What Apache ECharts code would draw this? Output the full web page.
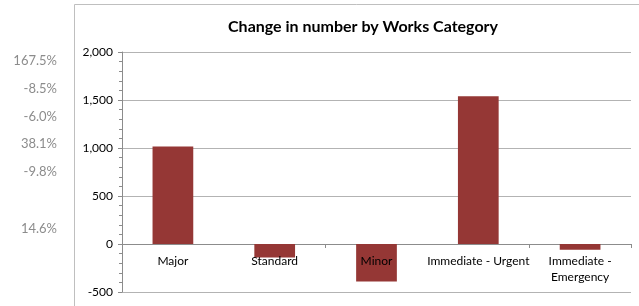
<!DOCTYPE html>
<html>
<head>
<meta charset="utf-8">
<script src="https://cdn.jsdelivr.net/npm/echarts@6/dist/echarts.min.js"></script>
<style>
  html, body { margin: 0; padding: 0; background: #fff; }
  #main { width: 639px; height: 306px; }
</style>
</head>
<body>
<div id="main"></div>
<script>
// works categories and change in number
const categories = ['Major', 'Standard', 'Minor', 'Immediate - Urgent', 'Immediate -\nEmergency'];
const changeValues = [1015, -140, -390, 1540, -60];
const yTicks = [-500, 0, 500, 1000, 1500, 2000];
// percentages shown to the left of the chart box
const pctLabels = ['167.5%', '-8.5%', '-6.0%', '38.1%', '-9.8%', '14.6%'];
const pctRows = [61, 89, 117, 144, 172, 229];

const chart = echarts.init(document.getElementById('main'), null, { renderer: 'canvas' });
const font = 'Lato, "Open Sans", sans-serif';

let graphics = [
  { type: 'line', shape: { x1: 74.5, y1: 4.5, x2: 639, y2: 4.5 }, style: { stroke: '#bfbfbf', lineWidth: 1 } },
  { type: 'line', shape: { x1: 74.5, y1: 4.5, x2: 74.5, y2: 306 }, style: { stroke: '#bfbfbf', lineWidth: 1 } }
];
pctLabels.forEach((t, i) => {
  graphics.push({
    type: 'text', right: 639 - 57, top: pctRows[i] - 7,
    style: { text: t, fill: '#8c8c8c', font: '13px ' + font, textAlign: 'right' }
  });
});

const option = {
  animation: false,
  title: {
    text: 'Change in number by Works Category',
    left: 358, top: 14, textAlign: 'center',
    textStyle: { fontFamily: font, fontWeight: 'bold', fontSize: 16, color: '#000' }
  },
  grid: { left: 122, right: 8, top: 52, bottom: 14, containLabel: false, outerBoundsMode: 'none' },
  xAxis: [{
    type: 'category',
    data: categories,
    axisLine: { onZero: true, lineStyle: { color: '#8c8c8c' } },
    axisTick: { show: true, alignWithLabel: false, length: 4, lineStyle: { color: '#8c8c8c' } },
    axisLabel: { show: false }
  }, {
    // label-only axis sitting on the zero line, drawn over the bars
    type: 'category',
    data: categories,
    position: 'bottom',
    offset: -48,
    z: 10,
    axisLine: { show: false, onZero: false },
    axisTick: { show: false },
    splitLine: { show: false },
    axisLabel: { color: '#000', fontFamily: font, fontSize: 12, margin: 9, lineHeight: 16, interval: 0 }
  }],
  yAxis: {
    type: 'value',
    min: yTicks[0],
    max: yTicks[yTicks.length - 1],
    interval: 500,
    axisLine: { show: true, lineStyle: { color: '#8c8c8c' } },
    axisTick: { show: true, length: 4, inside: false, lineStyle: { color: '#8c8c8c' } },
    minorTick: { show: true, splitNumber: 5, length: 3, lineStyle: { color: '#8c8c8c' } },
    splitLine: { lineStyle: { color: '#b3b3b3' } },
    axisLabel: {
      color: '#000', fontFamily: font, fontSize: 12, margin: 9,
      formatter: v => v.toLocaleString('en-US')
    }
  },
  series: [{
    type: 'bar',
    data: changeValues,
    barWidth: '40%',
    itemStyle: { color: '#953735' }
  }],
  graphic: graphics
};
chart.setOption(option);
</script>
</body>
</html>
